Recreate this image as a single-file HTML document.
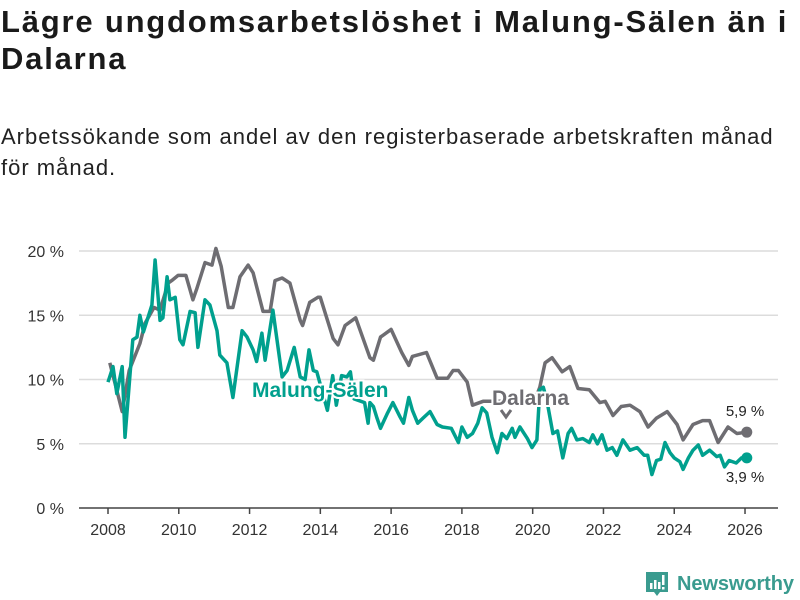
<!DOCTYPE html>
<html><head><meta charset="utf-8">
<style>
html,body{margin:0;padding:0;background:#fff;width:800px;height:600px;overflow:hidden;font-family:"Liberation Sans",sans-serif;}
#title{position:absolute;left:1px;top:3px;font-size:31px;letter-spacing:1.8px;font-weight:bold;color:#1a1a1a;line-height:37px;margin:0;white-space:nowrap;}
#subtitle{position:absolute;left:1px;top:121px;font-size:22px;letter-spacing:1px;color:#222;line-height:31px;margin:0;white-space:nowrap;}
svg{position:absolute;left:0;top:0;}
</style></head>
<body>
<h1 id="title">Lägre ungdomsarbetslöshet i Malung-Sälen än i<br>Dalarna</h1>
<p id="subtitle">Arbetssökande som andel av den registerbaserade arbetskraften månad<br>för månad.</p>
<svg id="chart" width="800" height="600"></svg>
<script>
const yTicks=[0,5,10,15,20];
const xTicks=[2008,2010,2012,2014,2016,2018,2020,2022,2024,2026];
const dalarnaT=[2008.05,2008.4,2008.6,2008.9,2009.05,2009.3,2009.47,2009.7,2009.8,2009.98,2010.2,2010.4,2010.5,2010.74,2010.94,2011.05,2011.2,2011.4,2011.53,2011.73,2011.96,2012.1,2012.38,2012.58,2012.72,2012.92,2013.14,2013.43,2013.5,2013.7,2013.93,2014.0,2014.36,2014.5,2014.7,2015.0,2015.4,2015.5,2015.7,2016.0,2016.3,2016.5,2016.6,2017.0,2017.3,2017.6,2017.75,2017.9,2018.15,2018.3,2018.6,2018.8,2020.05,2020.2,2020.35,2020.55,2020.83,2021.05,2021.28,2021.6,2021.9,2022.05,2022.27,2022.5,2022.75,2023.03,2023.26,2023.5,2023.8,2024.08,2024.25,2024.53,2024.8,2025.0,2025.24,2025.52,2025.77,2026.05];
const dalarnaV=[11.3,7.5,10.7,12.8,14.4,15.6,15.4,17.5,17.7,18.1,18.1,16.2,17.0,19.1,18.9,20.2,18.8,15.6,15.6,18.0,18.9,18.3,15.3,15.3,17.7,17.9,17.5,14.6,14.2,16.0,16.4,16.4,13.2,12.7,14.2,14.8,11.7,11.5,13.3,13.9,12.1,11.1,11.8,12.1,10.1,10.1,10.7,10.7,9.8,8.0,8.3,8.3,8.3,9.4,11.3,11.7,10.6,11.0,9.3,9.2,8.2,8.3,7.2,7.9,8.0,7.5,6.3,7.0,7.5,6.5,5.3,6.5,6.8,6.8,5.1,6.3,5.8,5.9];
const malungT=[2008.0,2008.14,2008.25,2008.4,2008.48,2008.7,2008.82,2008.9,2009.0,2009.24,2009.33,2009.47,2009.55,2009.67,2009.75,2009.9,2010.03,2010.12,2010.32,2010.46,2010.54,2010.74,2010.88,2011.08,2011.16,2011.36,2011.53,2011.79,2011.93,2012.1,2012.2,2012.35,2012.44,2012.66,2012.92,2013.06,2013.26,2013.43,2013.57,2013.68,2013.8,2013.9,2014.2,2014.35,2014.45,2014.6,2014.75,2014.85,2014.95,2015.25,2015.35,2015.4,2015.5,2015.6,2015.7,2015.8,2015.9,2016.05,2016.25,2016.35,2016.5,2016.6,2016.75,2016.9,2017.1,2017.3,2017.45,2017.7,2017.9,2018.0,2018.15,2018.3,2018.45,2018.57,2018.7,2018.85,2019.0,2019.13,2019.27,2019.42,2019.5,2019.64,2019.85,2019.98,2020.12,2020.2,2020.3,2020.4,2020.57,2020.7,2020.85,2021.0,2021.1,2021.25,2021.42,2021.6,2021.7,2021.83,2021.96,2022.1,2022.25,2022.38,2022.55,2022.75,2022.95,2023.15,2023.25,2023.37,2023.5,2023.62,2023.74,2023.88,2024.0,2024.16,2024.25,2024.4,2024.53,2024.68,2024.8,2025.0,2025.2,2025.3,2025.42,2025.55,2025.75,2025.9,2026.05];
const malungV=[9.8,11.0,8.9,11.0,5.5,13.1,13.3,15.0,13.7,15.8,19.3,14.6,14.8,18.0,16.2,16.4,13.1,12.7,15.3,15.2,12.5,16.2,15.8,13.8,11.9,11.3,8.6,13.8,13.3,12.3,11.4,13.6,11.5,15.4,10.2,10.7,12.5,10.2,10.0,12.3,10.7,10.6,7.6,10.3,8.0,10.3,10.2,10.6,8.5,8.2,6.6,8.2,7.9,7.0,6.2,6.8,7.4,8.2,7.1,6.6,8.6,7.6,6.6,7.0,7.5,6.5,6.3,6.2,5.1,6.3,5.5,5.8,6.6,7.8,7.4,5.5,4.3,5.8,5.4,6.2,5.5,6.3,5.4,4.7,5.3,9.2,9.4,8.4,5.8,6.0,3.9,5.8,6.2,5.3,5.4,5.1,5.7,5.0,5.7,4.5,4.7,4.1,5.3,4.5,4.7,4.1,4.1,2.6,3.7,3.8,5.1,4.3,3.9,3.6,3.0,3.9,4.5,4.9,4.1,4.5,4.0,4.1,3.2,3.7,3.5,3.9,3.9];
const NS='http://www.w3.org/2000/svg';
const svg=document.getElementById('chart');
const X0=108,XPY=35.39,Y0=508,YPP=12.85;
function sx(t){return X0+(t-2008)*XPY;}
function sy(v){return Y0-v*YPP;}
function mk(tag,attrs,parent){const e=document.createElementNS(NS,tag);for(const k in attrs)e.setAttribute(k,attrs[k]);(parent||svg).appendChild(e);return e;}
yTicks.forEach(v=>{
  if(v>0){const g=mk('line',{x1:79,x2:778,y1:sy(v),y2:sy(v),stroke:'#dcdcdc','stroke-width':1.5});
  
  }
  const t=mk('text',{x:64,y:sy(v)+6,'text-anchor':'end','font-size':16,fill:'#333','font-family':'Liberation Sans, sans-serif'});
  t.textContent=v+' %';
  
  
});
const ax=mk('line',{x1:79,x2:778,y1:Y0,y2:Y0,stroke:'#444','stroke-width':1.5});


xTicks.forEach(yr=>{
  const tk=mk('line',{x1:sx(yr),x2:sx(yr),y1:Y0,y2:Y0+6,stroke:'#444','stroke-width':1.5});
  
  
  const t=mk('text',{x:sx(yr),y:Y0+27,'text-anchor':'middle','font-size':16,fill:'#333','font-family':'Liberation Sans, sans-serif'});
  t.textContent=yr;
  
  
});
function pathD(T,V){return T.map((t,i)=>(i?'L':'M')+sx(t).toFixed(1)+','+sy(V[i]).toFixed(1)).join('');}
const pd=mk('path',{d:pathD(dalarnaT,dalarnaV),fill:'none',stroke:'#6e6d72','stroke-width':3.5,'stroke-linejoin':'round'});


const pm=mk('path',{d:pathD(malungT,malungV),fill:'none',stroke:'#00a08e','stroke-width':3.5,'stroke-linejoin':'round'});


const dl=dalarnaT.length-1, ml=malungT.length-1;
const cd=mk('circle',{cx:sx(dalarnaT[dl]),cy:sy(dalarnaV[dl]),r:5.5,fill:'#6e6d72'});


const cm=mk('circle',{cx:sx(malungT[ml]),cy:sy(malungV[ml]),r:5.5,fill:'#00a08e'});


function lbl(txt,x,y,opts,name){const t=mk('text',Object.assign({x:x,y:y,'font-family':'Liberation Sans, sans-serif'},opts));t.textContent=txt;return t;}
lbl(String(dalarnaV[dl]).replace('.',',')+' %',745,416,{'text-anchor':'middle','font-size':15,fill:'#222',stroke:'#fff','stroke-width':4,'paint-order':'stroke'},'dalarna-end-label');
lbl(String(malungV[ml]).replace('.',',')+' %',745,482,{'text-anchor':'middle','font-size':15,fill:'#222',stroke:'#fff','stroke-width':4,'paint-order':'stroke'},'malung-end-label');
lbl('Malung-Sälen',252,397,{'font-size':21,'font-weight':'bold',fill:'#00a08e',stroke:'#fff','stroke-width':4,'paint-order':'stroke'},'malung-series-label');
lbl('Dalarna',492,405,{'font-size':21,'font-weight':'bold',fill:'#6e6d72',stroke:'#fff','stroke-width':4,'paint-order':'stroke'},'dalarna-series-label');
const chev=mk('path',{d:'M501,410 L506,417 L511,410',fill:'none',stroke:'#6e6d72','stroke-width':3});


const lg=mk('g',{});


mk('path',{d:'M646,572 h22 v20 h-8 l-3,4 l-3,-4 h-8 z',fill:'#3a9b8f'},lg);
mk('rect',{x:650,y:583,width:2.5,height:6,fill:'#fff'},lg);
mk('rect',{x:654,y:580,width:2.5,height:9,fill:'#fff'},lg);
mk('rect',{x:658,y:582,width:2.5,height:7,fill:'#fff'},lg);
mk('rect',{x:662,y:575,width:2.5,height:10,fill:'#fff'},lg);
mk('rect',{x:662,y:587,width:2.5,height:2.5,fill:'#fff'},lg);
const lt=mk('text',{x:677,y:590,'font-size':20,'font-weight':'bold',fill:'#3a9b8f','font-family':'Liberation Sans, sans-serif',textLength:117},lg);
lt.textContent='Newsworthy';


</script>
</body></html>
